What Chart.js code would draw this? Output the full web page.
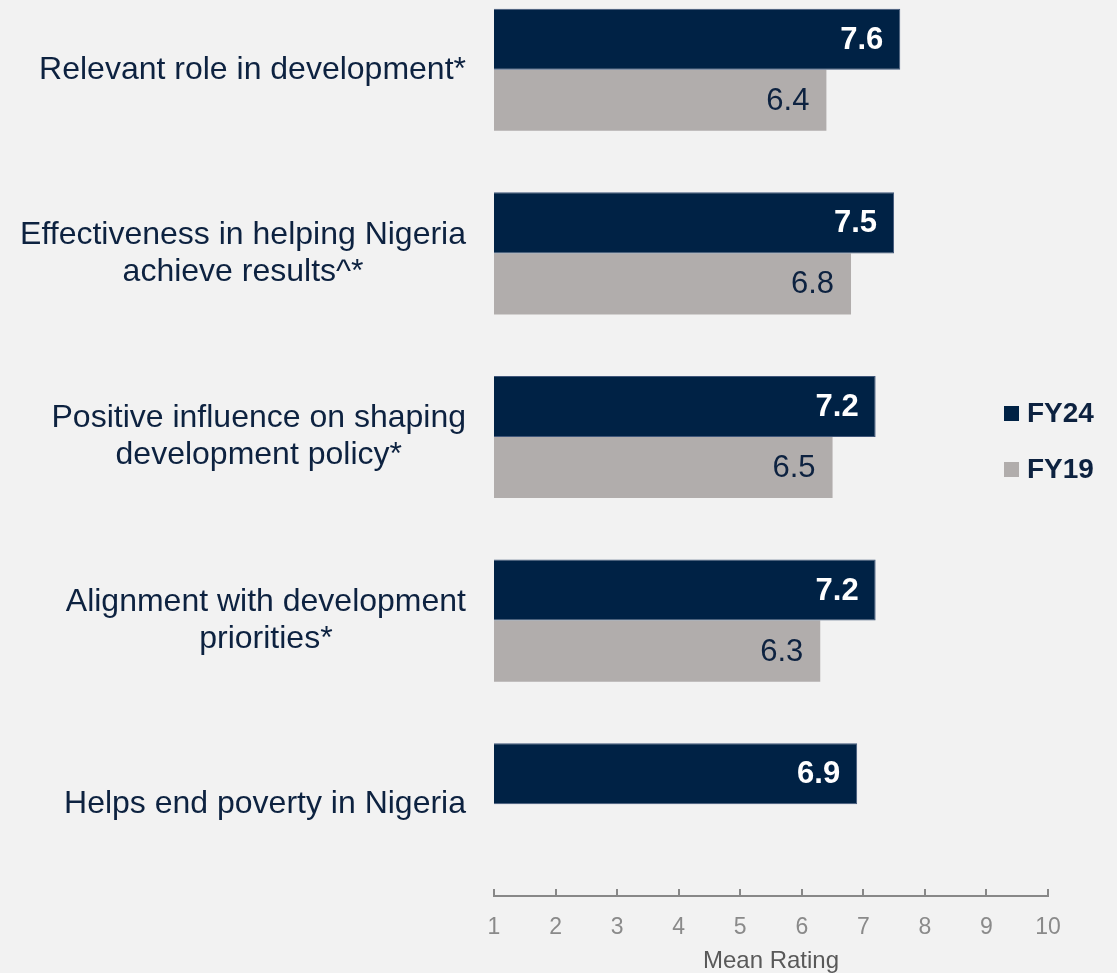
<!DOCTYPE html>
<html>
<head>
<meta charset="utf-8">
<script src="https://cdn.jsdelivr.net/npm/chart.js@4.4.1/dist/chart.umd.min.js"></script>
<style>
  html, body { margin: 0; padding: 0; background: #f2f2f2; overflow: hidden; width: 1117px; height: 973px; }
  #wrap { position: relative; width: 1117px; height: 973px; }
  #chart { position: absolute; left: 0; top: -22px; }
  .legend { position: absolute; left: 1004px; font: bold 28px "Liberation Sans", Arial, sans-serif; color: #0d2240; display: flex; align-items: center; line-height: 32px; }
  .legend i { display: inline-block; width: 15px; height: 15px; margin-right: 8px; }
</style>
</head>
<body>
<div id="wrap">
  <canvas id="chart" width="1117" height="995"></canvas>
  <div class="legend" style="top:397px"><i style="background:#002245"></i>FY24</div>
  <div class="legend" style="top:453px"><i style="background:#b1adac"></i>FY19</div>
</div>
<script>
// data
const categories = [
  'Relevant role in development*',
  ['Effectiveness in helping Nigeria', 'achieve results^*'],
  ['Positive influence on shaping', 'development policy*'],
  ['Alignment with development', 'priorities*'],
  'Helps end poverty in Nigeria'
];
const fy24 = [7.6, 7.5, 7.2, 7.2, 6.9];
const fy19 = [6.4, 6.8, 6.5, 6.3, null];
const xMin = 1, xMax = 10;

const navy = '#002245';
const grey = '#b1adac';
const textNavy = '#0d2240';
const font = '"Liberation Sans", Arial, sans-serif';

// category names on the left: block right-aligned, lines centred inside it
const categoryLabels = {
  id: 'categoryLabels',
  afterDraw(chart) {
    const ctx = chart.ctx;
    const yScale = chart.scales.y;
    const right = chart.chartArea.left - 28;
    const lineH = 37;
    ctx.save();
    ctx.font = '32px ' + font;
    ctx.fillStyle = textNavy;
    ctx.textAlign = 'center';
    ctx.textBaseline = 'middle';
    categories.forEach((label, i) => {
      const lines = Array.isArray(label) ? label : [label];
      const w = Math.max(...lines.map(l => ctx.measureText(l).width));
      const cx = right - w / 2;
      const cy = yScale.getPixelForTick(i);
      lines.forEach((l, j) => {
        ctx.fillText(l, cx, cy + (j - (lines.length - 1) / 2) * lineH);
      });
    });
    ctx.restore();
  }
};

// value labels inside the end of each bar
const valueLabels = {
  id: 'valueLabels',
  afterDatasetsDraw(chart) {
    const ctx = chart.ctx;
    ctx.save();
    ctx.textAlign = 'right';
    ctx.textBaseline = 'middle';
    chart.data.datasets.forEach((ds, di) => {
      const meta = chart.getDatasetMeta(di);
      meta.data.forEach((bar, i) => {
        const v = ds.data[i];
        if (v == null) return;
        ctx.font = (di === 0 ? 'bold ' : '') + '31px ' + font;
        ctx.fillStyle = di === 0 ? '#ffffff' : textNavy;
        ctx.fillText(v.toFixed(1), bar.x - 17, bar.y + 1);
      });
    });
    ctx.restore();
  }
};

new Chart(document.getElementById('chart'), {
  type: 'bar',
  data: {
    labels: categories,
    datasets: [
      { label: 'FY24', data: fy24, backgroundColor: navy, borderColor: '#41577a', borderWidth: 1 },
      { label: 'FY19', data: fy19, backgroundColor: grey, borderWidth: 0 }
    ]
  },
  options: {
    indexAxis: 'y',
    responsive: false,
    animation: false,
    categoryPercentage: 0.665,
    barPercentage: 1,
    layout: { padding: { left: 0, right: 69, top: 0, bottom: 0 } },
    plugins: {
      legend: { display: false },
      tooltip: { enabled: false }
    },
    scales: {
      y: {
        ticks: { display: false },
        grid: { display: false },
        border: { display: false },
        afterFit(scale) { scale.width = 494; }
      },
      x: {
        min: xMin,
        max: xMax,
        ticks: { stepSize: 1, color: '#8a8a8a', padding: 25, font: { family: font, size: 23 } },
        grid: { drawOnChartArea: false, drawTicks: true, tickLength: -7, color: '#888888', lineWidth: 2 },
        border: { display: true, color: '#888888', width: 2 },
        title: {
          display: true,
          text: 'Mean Rating',
          color: '#595959',
          font: { family: font, size: 24, lineHeight: 1 },
          padding: 0
        },
        afterFit(scale) { scale.height = 77; }
      }
    }
  },
  plugins: [categoryLabels, valueLabels]
});
</script>
</body>
</html>
